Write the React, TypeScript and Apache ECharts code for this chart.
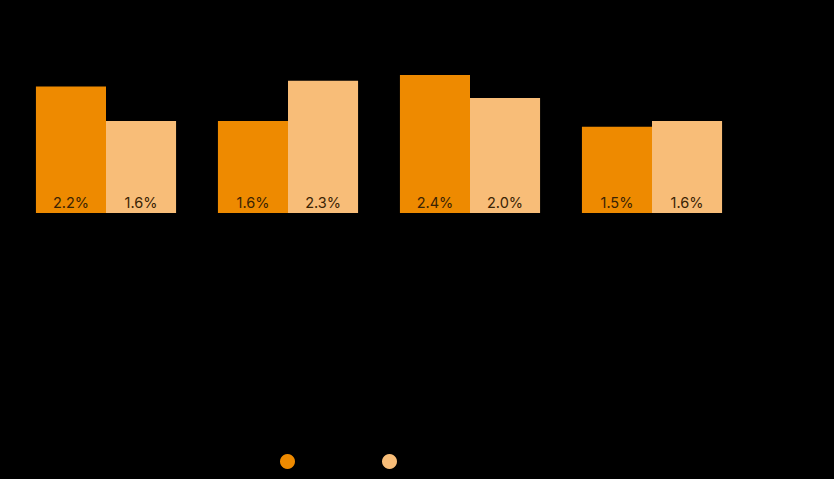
import React, { useEffect, useRef } from "react";
import * as echarts from "echarts";

const categories = ["A", "B", "C", "D"];
const seriesNames = ["Series 1", "Series 2"];
const series1 = [2.2, 1.6, 2.4, 1.5];
const series2 = [1.6, 2.3, 2.0, 1.6];
const colors = ["#EE8A00", "#F8BD78"];

export default function App() {
  const ref = useRef<HTMLDivElement>(null);
  useEffect(() => {
    document.body.style.margin = "0";
    document.body.style.background = "#000";
    const chart = echarts.init(ref.current!, null, { renderer: "svg" });
    const label = {
      show: true,
      position: "insideBottom",
      distance: 3,
      color: "#3a2304",
      fontFamily: "Inter, 'Noto Sans', sans-serif",
      fontSize: 14.5,
      formatter: (p: any) => p.value.toFixed(1) + "%",
    };
    chart.setOption({
      animation: false,
      backgroundColor: "#000",
      color: colors,
      grid: { left: 15, right: 91, top: 40.5, bottom: 266 },
      legend: [
        {
          data: [seriesNames[0]],
          left: 275,
          top: 449,
          icon: "circle",
          itemWidth: 15,
          itemHeight: 15,
          textStyle: { color: "#000", fontSize: 13 },
        },
        {
          data: [seriesNames[1]],
          left: 377,
          top: 449,
          icon: "circle",
          itemWidth: 15,
          itemHeight: 15,
          textStyle: { color: "#000", fontSize: 13 },
        },
      ],
      xAxis: {
        type: "category",
        data: categories,
        axisLine: { show: false },
        axisTick: { show: false },
        axisLabel: { show: false },
      },
      yAxis: {
        type: "value",
        min: 0,
        max: 3,
        show: false,
        splitLine: { show: false },
      },
      series: [
        {
          name: seriesNames[0],
          type: "bar",
          data: series1,
          barGap: "0%",
          barCategoryGap: "23%",
          label,
        },
        {
          name: seriesNames[1],
          type: "bar",
          data: series2,
          barGap: "0%",
          barCategoryGap: "23%",
          label,
        },
      ],
    });
    return () => chart.dispose();
  }, []);
  return <div ref={ref} style={{ width: 834, height: 479 }} />;
}
